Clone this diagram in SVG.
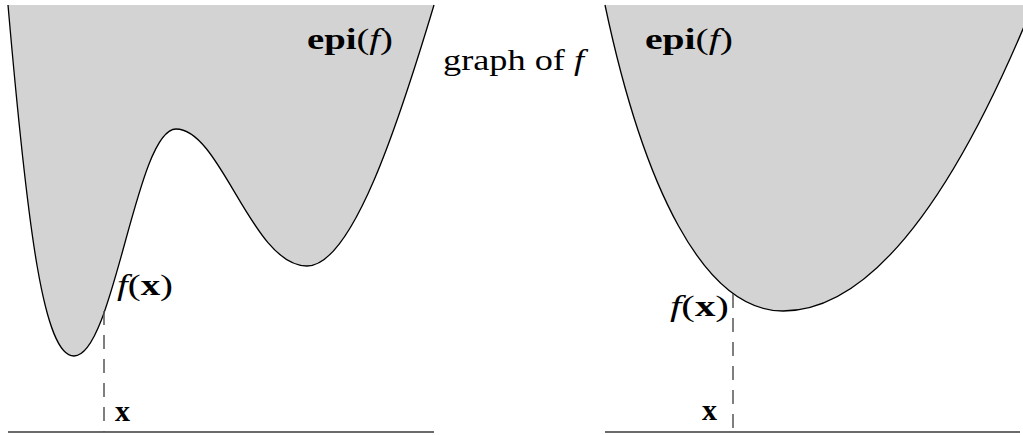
<svg xmlns="http://www.w3.org/2000/svg" width="1023" height="435" viewBox="0 0 1023 435">
  <style>
    .epi { fill: #d3d3d3; stroke: none; }
    .curve { fill: none; stroke: #000; stroke-width: 1.3; }
    .axis { stroke: #6a6a6a; stroke-width: 2; }
    .dash { stroke: #555; stroke-width: 1.5; stroke-dasharray: 14 10; }
    text { font-family: "Liberation Serif", "Times New Roman", serif; font-size: 30px; fill: #000; }
    .b { font-weight: bold; }
    .i { font-style: italic; }
  </style>
  <rect width="1023" height="435" fill="#fff"/>

  <g id="left-panel">
    <path class="epi" d="M8,5 C28,235 44,356 74,356 C114,356 136,129 176,129 C221,129 252,266 307,266 C352,266 398,125 434,5 Z"/>
    <path class="curve" d="M8,5 C28,235 44,356 74,356 C114,356 136,129 176,129 C221,129 252,266 307,266 C352,266 398,125 434,5"/>
    <line class="axis" x1="8" y1="432" x2="434" y2="432"/>
  </g>

  <g id="right-panel">
    <path class="epi" d="M605,5 C643,185 703,311 783,311 Q908,311 1033,5 Z"/>
    <path class="curve" d="M605,5 C643,185 703,311 783,311 Q908,311 1033,5"/>
    <line class="axis" x1="605" y1="432" x2="1020" y2="432"/>
  </g>

  <g id="connectors">
    <line class="dash" x1="104" y1="311" x2="104" y2="432"/>
    <line class="dash" x1="733" y1="294" x2="733" y2="432"/>
  </g>

  <g id="labels">
    <text id="epi-left" x="307" y="49" textLength="86" lengthAdjust="spacingAndGlyphs"><tspan class="b">epi</tspan>(<tspan class="i">f</tspan>)</text>
    <text id="graph-label" x="443" y="70" textLength="141" lengthAdjust="spacingAndGlyphs">graph of <tspan class="i">f</tspan></text>
    <text id="epi-right" x="645" y="49" textLength="88" lengthAdjust="spacingAndGlyphs"><tspan class="b">epi</tspan>(<tspan class="i">f</tspan>)</text>
    <text id="fx-left" x="117" y="295" textLength="56" lengthAdjust="spacingAndGlyphs"><tspan class="i">f</tspan>(<tspan class="b">x</tspan>)</text>
    <text id="fx-right" x="670" y="316" textLength="59" lengthAdjust="spacingAndGlyphs"><tspan class="i">f</tspan>(<tspan class="b">x</tspan>)</text>
    <text id="x-left" class="b" x="115" y="421">x</text>
    <text id="x-right" class="b" x="702" y="420">x</text>
  </g>
</svg>
